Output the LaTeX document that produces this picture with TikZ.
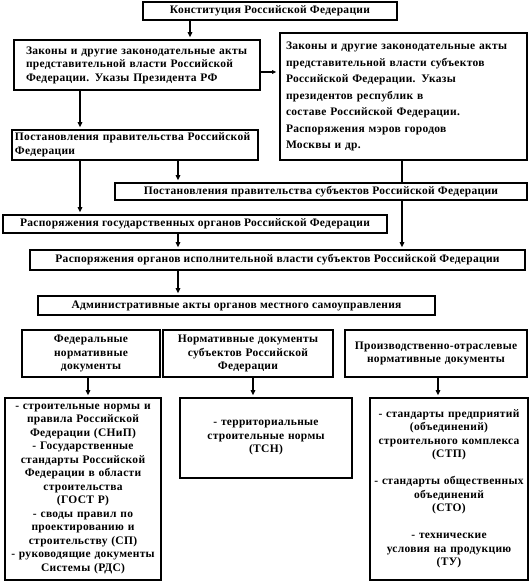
\documentclass[tikz,border=0pt]{standalone}
\usepackage{fontspec}
\setmainfont[LetterSpace=2.5]{Liberation Serif}
\usetikzlibrary{arrows.meta}

\tikzset{
  blk/.style={draw, line width=1.6pt, inner sep=2pt,
    font=\bfseries\fontsize{11.5}{13.5}\selectfont},
  arr/.style={line width=1.6pt, -{Triangle[length=5pt,width=4.5pt]}, shorten >=2pt},
  lnk/.style={line width=1.6pt},
}

\begin{document}
\begin{tikzpicture}[x=1pt,y=-1pt]
  \useasboundingbox (0,0) rectangle (530,587);

  % upper chain
  \node[blk, minimum width=254, minimum height=18] (konst) at (270,11)
    {Конституция Российской Федерации};
  \node[blk, minimum width=246, minimum height=50, text width=222, align=left] (zakRF) at (137,65)
    {Законы и другие законодательные акты\\представительной власти Российской\\Федерации. Указы Президента РФ};
  \node[blk, minimum width=247, minimum height=127, text width=235, align=left,
    font=\bfseries\fontsize{11.5}{16.5}\selectfont] (zakSub) at (403.5,96.5)
    {Законы и другие законодательные акты\\представительной власти субъектов\\Российской Федерации. Указы\\президентов республик в\\составе Российской Федерации.\\Распоряжения мэров городов\\Москвы и др.};
  \node[blk, minimum width=246, minimum height=30, text width=240, align=left] (postRF) at (135,145)
    {Постановления правительства Российской\\Федерации};
  \node[blk, minimum width=412, minimum height=17] (postSub) at (321,191.5)
    {Постановления правительства субъектов Российской Федерации};
  \node[blk, minimum width=384, minimum height=18] (raspGos) at (195,224)
    {Распоряжения государственных органов Российской Федерации};
  \node[blk, minimum width=495, minimum height=20] (raspIsp) at (277.5,260)
    {Распоряжения органов исполнительной власти субъектов Российской Федерации};
  \node[blk, minimum width=397, minimum height=19] (adm) at (236.5,305.5)
    {Административные акты органов местного самоуправления};

  % groups of documents
  \node[blk, minimum width=138, minimum height=47, text width=132, align=center] (fedN) at (91,353.5)
    {Федеральные\\нормативные\\документы};
  \node[blk, minimum width=170, minimum height=47, text width=164, align=center] (subN) at (248,353.5)
    {Нормативные документы\\субъектов Российской\\Федерации};
  \node[blk, minimum width=182, minimum height=47, text width=178, align=center] (proN) at (436,353.5)
    {Производственно-отраслевые\\нормативные документы};

  \node[blk, minimum width=156, minimum height=182, text width=152, align=center] (lowA) at (83,489)
    {- строительные нормы и\\правила Российской\\Федерации (СНиП)\\- Государственные\\стандарты Российской\\Федерации в области\\строительства\\(ГОСТ Р)\\- своды правил по\\проектированию и\\строительству (СП)\\- руководящие документы\\Системы (РДС)};
  \node[blk, minimum width=172, minimum height=80, text width=164, align=center] (lowB) at (266,438)
    {- территориальные\\строительные нормы\\(ТСН)};
  \node[blk, minimum width=158, minimum height=182, text width=154, align=center] (lowC) at (449,489)
    {- стандарты предприятий\\(объединений)\\строительного комплекса\\(СТП)\\[13.5pt]- стандарты общественных\\объединений\\(СТО)\\[13.5pt]- технические\\условия на продукцию\\(ТУ)};

  % connectors
  \draw[arr] (190,0 |- konst.south) -- (190,0 |- zakRF.north);
  \draw[lnk, -{Triangle[length=4pt,width=3.5pt]}, shorten >=3pt] (zakRF.east |- 0,72) -- (zakSub.west |- 0,72);
  \draw[arr] (80,0 |- zakRF.south) -- (80,0 |- postRF.north);
  \draw[arr] (80,0 |- postRF.south) -- (80,0 |- raspGos.north);
  \draw[arr] (178,0 |- postRF.south) -- (178,0 |- postSub.north);
  \draw[lnk] (402,0 |- zakSub.south) -- (402,0 |- postSub.north);
  \draw[arr] (402,0 |- postSub.south) -- (402,0 |- raspIsp.north);
  \draw[arr] (178,0 |- raspGos.south) -- (178,0 |- raspIsp.north);
  \draw[arr] (178,0 |- raspIsp.south) -- (178,0 |- adm.north);
  \draw[arr] (88,0 |- fedN.south) -- (88,0 |- lowA.north);
  \draw[arr] (253,0 |- subN.south) -- (253,0 |- lowB.north);
  \draw[arr] (438,0 |- proN.south) -- (438,0 |- lowC.north);
\end{tikzpicture}
\end{document}
